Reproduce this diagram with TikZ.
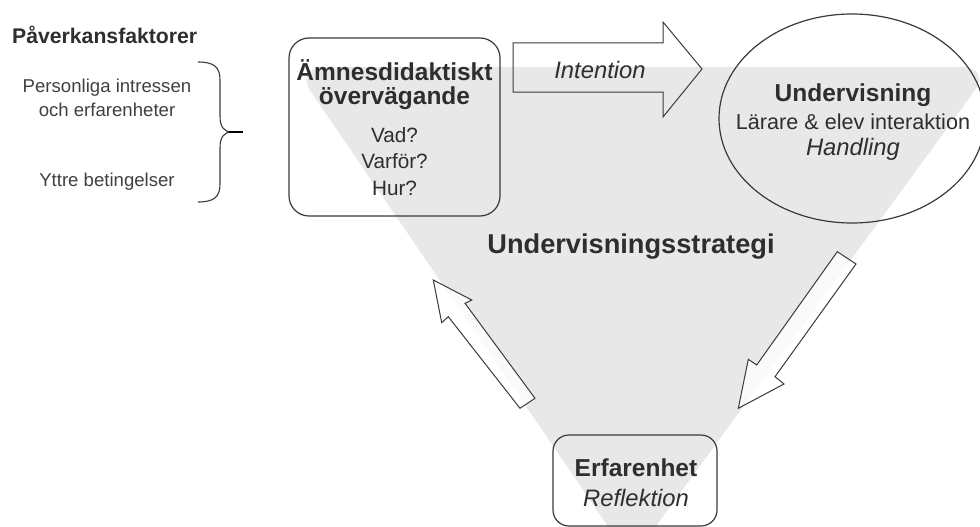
\documentclass[tikz,border=0pt]{standalone}
\usepackage{fontspec}
\setmainfont{Liberation Sans}
\usetikzlibrary{shapes.geometric}
\definecolor{txt}{HTML}{2E2E2E}
\definecolor{txtl}{HTML}{404040}
\definecolor{edge}{HTML}{3A3A3A}
\definecolor{tri}{HTML}{E8E8E8}
\tikzset{
  boxstyle/.style={draw=edge, line width=1.2pt, rounded corners=20pt, inner sep=0pt},
  ellstyle/.style={draw=edge, line width=1.2pt, ellipse, inner sep=0pt},
  blockarrow/.style={draw=edge, line width=1pt, line join=miter},
  headtxt/.style={text=txt, font=\bfseries\fontsize{24.5}{28}\selectfont, inner sep=0pt},
  plaintxt/.style={text=txt, font=\fontsize{20.7}{24}\selectfont, inner sep=0pt},
  itxt/.style={text=txt, font=\itshape\fontsize{23.8}{28}\selectfont, inner sep=0pt},
  sidetxt/.style={text=txtl, font=\fontsize{18.6}{22}\selectfont, inner sep=0pt},
}
\begin{document}
\begin{tikzpicture}[x=1pt, y=-1pt]
\clip (0,0) rectangle (980,527);
\fill[white] (0,0) rectangle (980,527);

% gray triangle
\fill[tri, rounded corners=30pt] (294,67) -- (992,67) -- (631,560) -- cycle;

% left side
\node[anchor=west, text=txt, font=\bfseries\fontsize{21.2}{24}\selectfont, inner sep=0pt] (pav) at (12,35) {Påverkansfaktorer};
\node[sidetxt] (pers1) at (107,88) {Personliga intressen};
\node[sidetxt] (pers2) at (107,110) {och erfarenheter};
\node[sidetxt] (yttre) at (107,182) {Yttre betingelser};
\coordinate (brtop) at (198,62);
\coordinate (brbot) at (198,202);
\coordinate (brtip) at (243,132);
\draw[edge, line width=1.1pt]
  (brtop) .. controls (214,62) and (220,67) .. (220,80) -- (220,116)
  .. controls (220,127) and (224,132) .. (232,132)
  .. controls (224,132) and (220,137) .. (220,148) -- (220,184)
  .. controls (220,197) and (214,202) .. (brbot);
\draw[black, line width=2pt] (229,132) -- (brtip);

% left box
\node[boxstyle, minimum width=211pt, minimum height=178pt] (amne) at (394.5,127) {};
\node[headtxt] (amne1) at (394.5,70) {Ämnesdidaktiskt};
\node[headtxt] (amne2) at (394.5,98) {övervägande};
\node[plaintxt] (vad) at (394.5,135) {Vad?};
\node[plaintxt] (varfor) at (394.5,161) {Varför?};
\node[plaintxt] (hur) at (394.5,188) {Hur?};

% ellipse
\node[ellstyle, minimum width=266pt, minimum height=209pt] (und) at (852,118.5) {};
\node[headtxt] (und1) at (853,95) {Undervisning};
\node[text=txt, font=\fontsize{21.6}{26}\selectfont, inner sep=0pt] (und2) at (853,122) {Lärare \& elev interaktion};
\node[itxt] (und3) at (853,149) {Handling};

% bottom box
\node[boxstyle, rounded corners=16pt, minimum width=164pt, minimum height=91pt] (erf) at (635,480.5) {};
\node[headtxt] (erf1) at (636,468) {Erfarenhet};
\node[itxt] (erf2) at (636,498) {Reflektion};

% centre label
\node[text=txt, font=\bfseries\fontsize{27.2}{32}\selectfont, inner sep=0pt] (strat) at (631,247) {Undervisningsstrategi};

% arrows
\draw[blockarrow] (513,43) -- (663,43) -- (663,22) -- (702,69) -- (663,117) -- (663,92) -- (513,92) -- cycle;
\node[itxt] (intent) at (600,70) {Intention};

\draw[blockarrow, fill=white, fill opacity=0.8] (433.3,280) -- (471.7,300) -- (465,303.3) -- (535,398.3) -- (520,408.3) -- (448.3,316.7) -- (441.7,322.7) -- cycle;
\draw[blockarrow, fill=white, fill opacity=0.8] (837.3,251.7) -- (856,264) -- (775,376.7) -- (784,384) -- (738.3,408.3) -- (748.3,359.3) -- (756.7,365) -- cycle;
\end{tikzpicture}
\end{document}
